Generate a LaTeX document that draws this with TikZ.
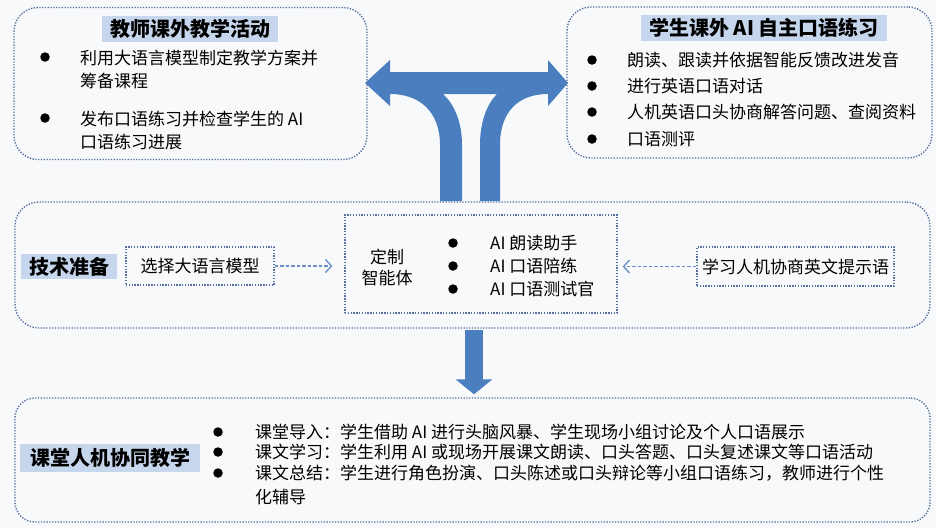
\documentclass[tikz,border=0pt]{standalone}
\usepackage{fontspec}
\setmainfont{Noto Sans CJK SC}
\usetikzlibrary{arrows.meta,calc}
\definecolor{bgc}{RGB}{247,249,250}
\definecolor{hlc}{RGB}{198,215,237}
\definecolor{dotc}{RGB}{85,112,158}
\definecolor{bluec}{RGB}{74,126,190}
\definecolor{dashc}{RGB}{105,142,200}
\begin{document}
\begin{tikzpicture}[x=1pt,y=-1pt,
  panel/.style={draw=dotc, line width=1.4pt, dash pattern=on 1.3pt off 1.5pt, rounded corners=24pt, inner sep=0pt},
  sqbox/.style={draw=dotc, line width=1.3pt, dash pattern=on 1.3pt off 1.5pt, inner sep=0pt},
  hl/.style={fill=hlc, font=\fontsize{20}{22}\selectfont\bfseries, inner xsep=8pt, inner ysep=3pt},
  bul/.style={circle, fill=black, inner sep=0pt, minimum size=9.5pt},
  body/.style={font=\fontsize{17}{23}\selectfont, anchor=west, align=left, inner sep=0pt},
  dasharr/.style={draw=dashc, line width=1.3pt, dash pattern=on 3.5pt off 2pt, -{Straight Barb[length=6pt,width=13pt]}},
  bigarr/.style={fill=bluec, draw=none}
]
\useasboundingbox (0,0) rectangle (936,528);
\fill[bgc] (0,0) rectangle (936,528);

% T-shaped double arrow
\path[bigarr] (365,83) -- (390,60) -- (390,72) -- (548,72) -- (548,60) -- (568,83) -- (548,106) -- (548,94)
  .. controls (518,94) and (500,112) .. (500,145) -- (500,201) -- (480,201) -- (480,145)
  .. controls (480,120) and (488,103) .. (497,94) -- (443,94)
  .. controls (453,103) and (462,120) .. (462,145) -- (462,201) -- (440,201) -- (440,145)
  .. controls (440,112) and (420,94) .. (390,94) -- (390,106) -- cycle;

% panels
\node[panel, minimum width=353pt, minimum height=152pt] (tl) at (190.5,83.5) {};
\node[panel, minimum width=365pt, minimum height=151pt] (tr) at (749.5,82.5) {};
\node[panel, minimum width=915pt, minimum height=126pt] (mid) at (472.5,265) {};
\node[panel, rounded corners=20pt, minimum width=915pt, minimum height=124pt] (bot) at (472.5,460) {};

% top-left
\node[hl] (tlt) at (190,29) {教师课外教学活动};
\node[bul] (tlb1) at (45,57) {};
\node[body] (tl1) at (80,69) {利用大语言模型制定教学方案并\\筹备课程};
\node[bul] (tlb2) at (45,118) {};
\node[body] (tl2) at (80,130) {发布口语练习并检查学生的 AI\\口语练习进展};

% top-right
\node[hl] (trt) at (764,28) {学生课外 AI 自主口语练习};
\node[bul] (trb1) at (592,60) {};
\node[body] (tr1) at (627,60) {朗读、跟读并依据智能反馈改进发音};
\node[bul] (trb2) at (592,86) {};
\node[body] (tr2) at (627,86) {进行英语口语对话};
\node[bul] (trb3) at (592,112) {};
\node[body] (tr3) at (627,112) {人机英语口头协商解答问题、查阅资料};
\node[bul] (trb4) at (592,139) {};
\node[body] (tr4) at (627,139) {口语测评};

% middle
\node[hl] (mt) at (69,266.5) {技术准备};
\node[sqbox, minimum width=148pt, minimum height=38pt, font=\fontsize{17}{20}\selectfont] (sel) at (200,266) {选择大语言模型};
\node[sqbox, minimum width=272pt, minimum height=98pt] (ctr) at (481,264) {};
\node[sqbox, minimum width=197pt, minimum height=39pt, font=\fontsize{17}{20}\selectfont] (ext) at (795.5,266.5) {学习人机协商英文提示语};
\node[font=\fontsize{17}{21}\selectfont, align=center, inner sep=0pt] (agent) at (387,267.5) {定制\\智能体};
\node[bul] (cb1) at (453,243) {};
\node[body] (c1) at (490,243) {AI 朗读助手};
\node[bul] (cb2) at (453,266) {};
\node[body] (c2) at (490,266) {AI 口语陪练};
\node[bul] (cb3) at (453,289) {};
\node[body] (c3) at (490,289) {AI 口语测试官};
\draw[dasharr, shorten >=12pt] (sel.east) -- (sel.east -| ctr.west);
\draw[dasharr, shorten >=5pt] (ext.west) -- (ext.west -| ctr.east);

% down arrow
\draw[draw=bluec, line width=18pt, -{Triangle[length=15pt,width=36pt]}, shorten >=3pt] ([xshift=1.5pt,yshift=-1pt]mid.south) -- ([xshift=1.5pt]bot.north);

% bottom
\node[hl, inner xsep=10pt, inner ysep=4pt] (bt) at (110,458) {课堂人机协同教学};
\node[bul] (bb1) at (218,432) {};
\node[body, font=\fontsize{17}{20}\selectfont] (b1) at (255,432) {课堂导入：学生借助 AI 进行头脑风暴、学生现场小组讨论及个人口语展示};
\node[bul] (bb2) at (218,452) {};
\node[body, font=\fontsize{17}{20}\selectfont] (b2) at (255,452) {课文学习：学生利用 AI 或现场开展课文朗读、口头答题、口头复述课文等口语活动};
\node[bul] (bb3) at (218,473) {};
\node[body, font=\fontsize{17}{24}\selectfont] (b3) at (255,485) {课文总结：学生进行角色扮演、口头陈述或口头辩论等小组口语练习，教师进行个性\\化辅导};
\end{tikzpicture}
\end{document}
